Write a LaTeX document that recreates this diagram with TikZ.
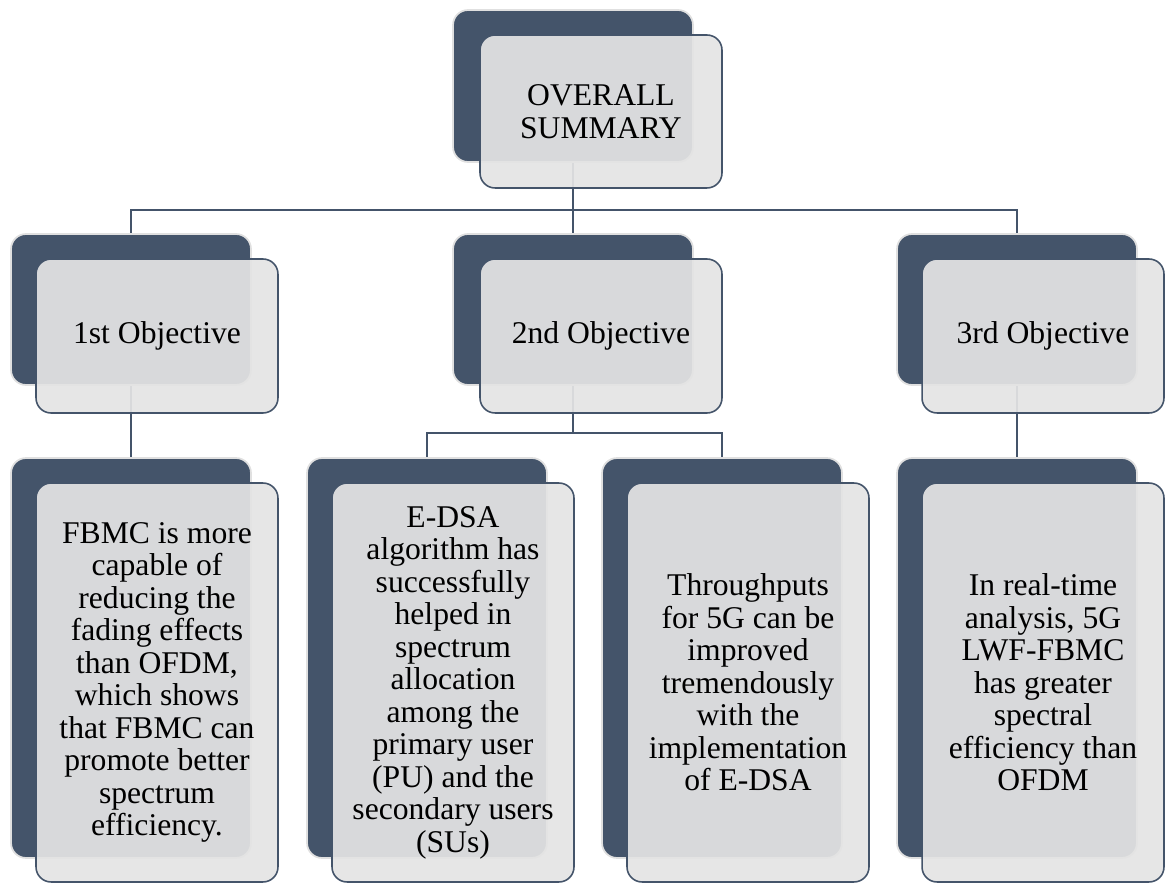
\documentclass[tikz,border=0pt]{standalone}
\usepackage{fontspec}
\setmainfont{Liberation Serif}
\definecolor{slate}{HTML}{44546A}
\begin{document}
\begin{tikzpicture}[x=0.02cm, y=-0.02cm,
  every node/.style={font=\fontsize{18}{18.5}\selectfont},
  backbox/.style={draw=black!12, line width=1pt, fill=slate, rounded corners=0.3cm, minimum width=4.8cm},
  frontbox/.style={draw=slate, line width=0.9pt, fill=black!10.5, fill opacity=0.93, text opacity=1,
    rounded corners=0.3cm, minimum width=4.84cm, align=center},
  link/.style={draw=slate, line width=1.2pt}]
\useasboundingbox (0,0) rectangle (1165,884);
% dark cards behind
\node[backbox, minimum height=3.04cm] (sum-b) at (573,86) {};
\node[backbox, minimum height=3.02cm] (o1-b) at (131,309.5) {};
\node[backbox, minimum height=3.02cm] (o2-b) at (573,309.5) {};
\node[backbox, minimum height=3.02cm] (o3-b) at (1017,309.5) {};
\node[backbox, minimum height=8cm] (fbmc-b) at (131,658) {};
\node[backbox, minimum height=8cm] (edsa-b) at (427,658) {};
\node[backbox, minimum height=8cm] (thru-b) at (722,658) {};
\node[backbox, minimum height=8cm] (lwf-b) at (1017,658) {};
% tree lines
\coordinate (bar1) at (573,210);
\coordinate (bar2) at (573,433);
\draw[link] (sum-b.south) -- (bar1) -| (o1-b.north);
\draw[link] (bar1) -| (o3-b.north);
\draw[link] (bar1) -- (o2-b.north);
\draw[link] (o1-b.south) -- (fbmc-b.north);
\draw[link] (o3-b.south) -- (lwf-b.north);
\draw[link] (o2-b.south) -- (bar2) -| (edsa-b.north);
\draw[link] (bar2) -| (thru-b.north);
% light cards with text
\node[frontbox, minimum height=3.06cm] (sum) at (601,111.5) {OVERALL\\SUMMARY};
\node[frontbox, minimum height=3.08cm] (o1) at (157,336) {1st Objective};
\node[frontbox, minimum height=3.08cm] (o2) at (601,336) {2nd Objective};
\node[frontbox, minimum height=3.08cm] (o3) at (1043,336) {3rd Objective};
\node[frontbox, minimum height=7.98cm] (fbmc) at (157,682.5)
  {FBMC is more\\capable of\\reducing the\\fading effects\\than OFDM,\\which shows\\that FBMC can\\promote better\\spectrum\\efficiency.};
\node[frontbox, minimum height=7.98cm] (edsa) at (453,682.5)
  {E-DSA\\algorithm has\\successfully\\helped in\\spectrum\\allocation\\among the\\primary user\\(PU) and the\\secondary users\\(SUs)};
\node[frontbox, minimum height=7.98cm] (thru) at (748,682.5)
  {Throughputs\\for 5G can be\\improved\\tremendously\\with the\\implementation\\of E-DSA};
\node[frontbox, minimum height=7.98cm] (lwf) at (1043,682.5)
  {In real-time\\analysis, 5G\\LWF-FBMC\\has greater\\spectral\\efficiency than\\OFDM};
\end{tikzpicture}
\end{document}
